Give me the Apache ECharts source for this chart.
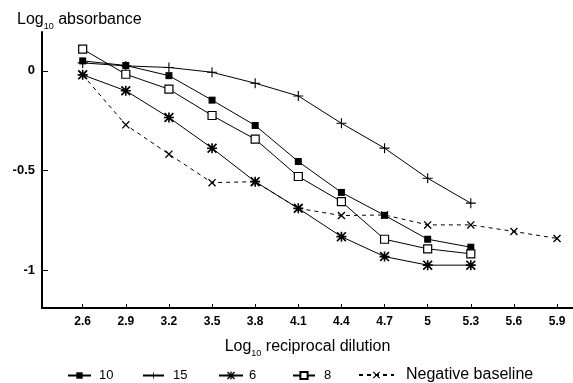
<!DOCTYPE html>
<html>
<head>
<meta charset="utf-8">
<script src="https://cdn.jsdelivr.net/npm/echarts@6/dist/echarts.min.js"></script>
<style>
html,body{margin:0;padding:0;background:#fff;}
#chart{width:573px;height:383px;}
</style>
</head>
<body>
<div id="chart"></div>
<script>
// ---- data ----
const xTicks = [2.6, 2.9, 3.2, 3.5, 3.8, 4.1, 4.4, 4.7, 5.0, 5.3, 5.6, 5.9];
const xTickLabels = ['2.6', '2.9', '3.2', '3.5', '3.8', '4.1', '4.4', '4.7', '5', '5.3', '5.6', '5.9'];
const yTicks = [-1, -0.5, 0];
const yTickLabels = ['-1', '-0.5', '0'];

const dilution = [2.6, 2.9, 3.2, 3.5, 3.8, 4.1, 4.4, 4.7, 5.0, 5.3];
const baselineDilution = [2.6, 2.9, 3.2, 3.5, 3.8, 4.1, 4.4, 4.7, 5.0, 5.3, 5.6, 5.9];

const series10 = [0.05, 0.027, -0.024, -0.147, -0.274, -0.455, -0.61, -0.725, -0.845, -0.885];
const series15 = [0.04, 0.025, 0.017, -0.007, -0.062, -0.126, -0.263, -0.388, -0.539, -0.664];
const series6  = [-0.02, -0.10, -0.234, -0.388, -0.556, -0.69, -0.832, -0.932, -0.975, -0.975];
const series8  = [0.109, -0.017, -0.092, -0.224, -0.343, -0.53, -0.656, -0.845, -0.893, -0.918];
const baseline = [-0.02, -0.271, -0.418, -0.561, -0.556, -0.69, -0.726, -0.723, -0.773, -0.773, -0.806, -0.841];

const seriesNames = ['10', '15', '6', '8', 'Negative baseline'];

// ---- helpers ----
function pairs(xs, ys) { return xs.map((x, i) => [x, ys[i]]); }

const plusPath = 'path://M0,4H9V5H0Z M4,0H5V9H4Z';
const starPath = 'path://M0,4.2H10V5.8H0Z M4.2,0H5.8V10H4.2Z M0,1.2L1.2,0L10,8.8L8.8,10Z M8.8,0L10,1.2L1.2,10L0,8.8Z';
const crossPath = 'path://M0,1.2L1.2,0L10,8.8L8.8,10Z M8.8,0L10,1.2L1.2,10L0,8.8Z';

const FONT = '"Liberation Sans", Arial, Helvetica, sans-serif';

const chart = echarts.init(document.getElementById('chart'), null, {renderer: 'canvas'});

const lineBase = {type: 'line', animation: false,
  lineStyle: {color: '#000', width: 1}, emphasis: {disabled: true}};

const richSub = {
  a: {fontFamily: FONT, fontSize: 16, fontWeight: 'normal', color: '#000', lineHeight: 22},
  b: {fontFamily: FONT, fontSize: 9, fontWeight: 'normal', color: '#000', lineHeight: 12, verticalAlign: 'bottom'}
};

chart.setOption({
  backgroundColor: '#fff',
  animation: false,
  title: {
    left: 12, top: 4,
    text: '{a|Log}{b|10}{a| absorbance}',
    textStyle: {fontWeight: 'normal', rich: richSub}
  },
  grid: {left: 42, right: 0, top: 32, bottom: 75, containLabel: false},
  xAxis: {
    type: 'value', min: 2.317, max: 6.011,
    splitLine: {show: false},
    axisLine: {show: true, onZero: false, lineStyle: {color: '#000', width: 2}},
    axisTick: {show: true, inside: true, length: 4, lineStyle: {color: '#000', width: 1}, customValues: xTicks},
    axisLabel: {
      customValues: xTicks, margin: 8, color: '#000', fontFamily: FONT, fontSize: 12, fontWeight: 'bold',
      formatter: function (v) {
        const i = xTicks.findIndex(t => Math.abs(t - v) < 1e-6);
        return i >= 0 ? xTickLabels[i] : '';
      }
    },
    name: '{a|Log}{b|10}{a| reciprocal dilution}',
    nameLocation: 'middle', nameGap: 28,
    nameTextStyle: {rich: richSub}
  },
  yAxis: {
    type: 'value', min: -1.19, max: 0.195,
    splitLine: {show: false},
    axisLine: {show: true, onZero: false, lineStyle: {color: '#000', width: 2}},
    axisTick: {show: true, inside: true, length: 6, lineStyle: {color: '#000', width: 1}, customValues: yTicks},
    axisLabel: {
      customValues: yTicks, margin: 7, color: '#000', fontFamily: FONT, fontSize: 13, fontWeight: 'bold',
      formatter: function (v) {
        const i = yTicks.findIndex(t => Math.abs(t - v) < 1e-6);
        return i >= 0 ? yTickLabels[i] : '';
      }
    }
  },
  legend: [
    {data: [seriesNames[0]], left: 62, top: 364, itemWidth: 23, itemHeight: 8, textStyle: {fontFamily: FONT, fontSize: 13, color: '#000', padding: [0, 0, 0, 3]}},
    {data: [seriesNames[1]], left: 137, top: 364, itemWidth: 21, itemHeight: 8, textStyle: {fontFamily: FONT, fontSize: 13, color: '#000', padding: [0, 0, 0, 4]}},
    {data: [seriesNames[2]], left: 213, top: 364, itemWidth: 24, itemHeight: 10, textStyle: {fontFamily: FONT, fontSize: 13, color: '#000', padding: [0, 0, 0, 1]}},
    {data: [seriesNames[3]], left: 287, top: 364, itemWidth: 22, itemHeight: 9, textStyle: {fontFamily: FONT, fontSize: 13, color: '#000', padding: [0, 0, 0, 4]}},
    {data: [seriesNames[4]], left: 353, top: 362, itemWidth: 35, itemHeight: 9, textStyle: {fontFamily: FONT, fontSize: 16, color: '#000', padding: [0, 0, 0, 7]}}
  ],
  series: [
    Object.assign({}, lineBase, {name: seriesNames[0], data: pairs(dilution, series10), symbol: 'rect', symbolSize: 7,
      itemStyle: {color: '#000'}}),
    Object.assign({}, lineBase, {name: seriesNames[1], data: pairs(dilution, series15), symbol: plusPath, symbolSize: 10,
      itemStyle: {color: '#000'}}),
    Object.assign({}, lineBase, {name: seriesNames[2], data: pairs(dilution, series6), symbol: starPath, symbolSize: 10,
      itemStyle: {color: '#000'}}),
    Object.assign({}, lineBase, {name: seriesNames[3], data: pairs(dilution, series8), symbol: 'rect', symbolSize: 8,
      itemStyle: {color: '#fff', borderColor: '#000', borderWidth: 1.2}}),
    Object.assign({}, lineBase, {name: seriesNames[4], data: pairs(baselineDilution, baseline), symbol: crossPath, symbolSize: 8,
      itemStyle: {color: '#000'}, lineStyle: {color: '#000', width: 1, type: [4, 4]}})
  ]
});
</script>
</body>
</html>
